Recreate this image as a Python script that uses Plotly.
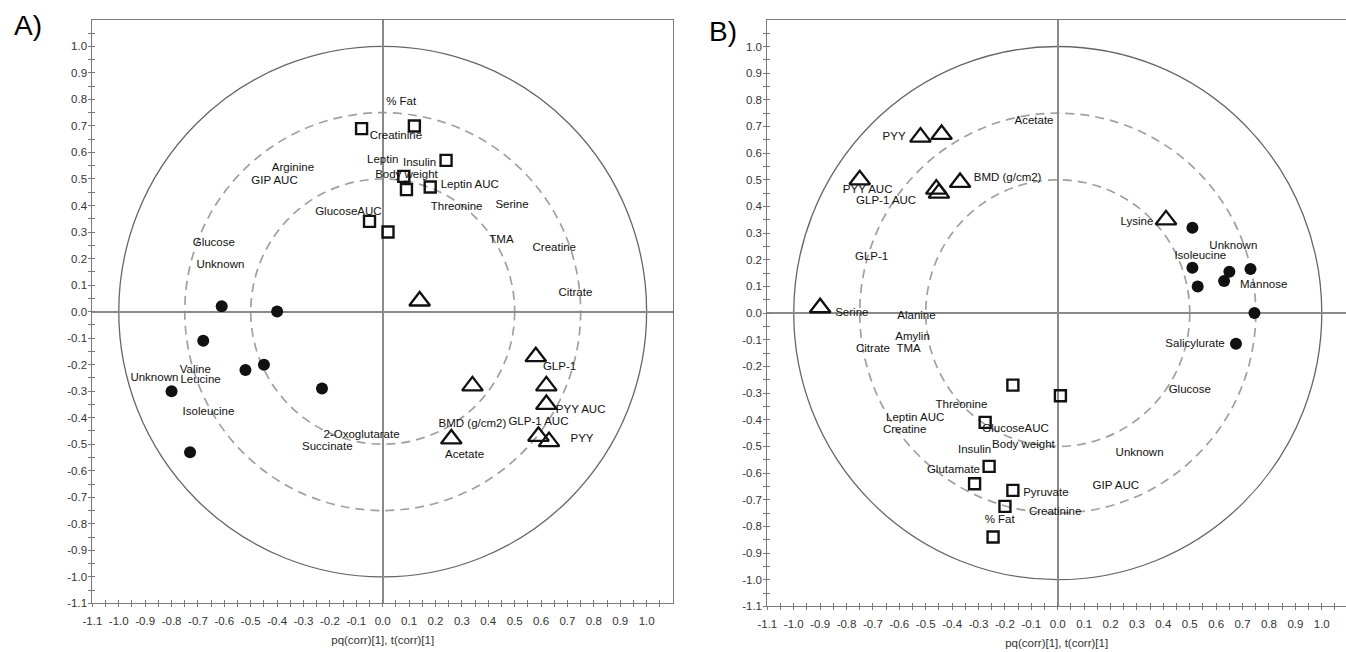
import numpy as np
import plotly.graph_objects as go

# ---------------- Panel A data ----------------
a_sq_x = [-0.08, 0.12, 0.24, 0.08, 0.09, 0.18, -0.05, 0.02]
a_sq_y = [0.69, 0.70, 0.57, 0.51, 0.46, 0.47, 0.34, 0.30]
a_tri_x = [0.14, 0.58, 0.34, 0.62, 0.62, 0.26, 0.59, 0.63]
a_tri_y = [0.04, -0.17, -0.28, -0.28, -0.35, -0.48, -0.47, -0.49]
a_dot_x = [-0.61, -0.40, -0.68, -0.45, -0.52, -0.23, -0.80, -0.73]
a_dot_y = [0.02, 0.00, -0.11, -0.20, -0.22, -0.29, -0.30, -0.53]

a_lbl = ["% Fat", "Creatinine", "Leptin", "Insulin", "Body weight", "Leptin AUC",
         "Arginine", "GIP AUC", "GlucoseAUC", "Threonine", "Serine", "TMA",
         "Creatine", "Citrate", "Glucose", "Unknown", "Valine", "Unknown",
         "Leucine", "Isoleucine", "2-Oxoglutarate", "Succinate", "BMD (g/cm2)",
         "GLP-1 AUC", "GLP-1", "PYY AUC", "PYY", "Acetate"]
a_lbl_x = [0.07, 0.05, 0.00, 0.14, 0.09, 0.33,
           -0.34, -0.41, -0.13, 0.28, 0.49, 0.45,
           0.65, 0.73, -0.64, -0.615, -0.71, -0.865,
           -0.69, -0.66, -0.08, -0.21, 0.34,
           0.59, 0.67, 0.75, 0.755, 0.31]
a_lbl_y = [0.79, 0.66, 0.57, 0.56, 0.515, 0.475,
           0.54, 0.49, 0.375, 0.395, 0.40, 0.27,
           0.24, 0.07, 0.26, 0.175, -0.22, -0.25,
           -0.26, -0.38, -0.465, -0.51, -0.425,
           -0.415, -0.21, -0.37, -0.48, -0.54]

# ---------------- Panel B data ----------------
b_sq_x = [-0.17, 0.01, -0.275, -0.26, -0.315, -0.17, -0.20, -0.245]
b_sq_y = [-0.27, -0.31, -0.41, -0.575, -0.64, -0.665, -0.725, -0.84]
b_tri_x = [-0.52, -0.44, -0.75, -0.46, -0.45, -0.37, 0.41, -0.90]
b_tri_y = [0.66, 0.67, 0.50, 0.465, 0.45, 0.49, 0.35, 0.02]
b_dot_x = [0.51, 0.51, 0.53, 0.63, 0.65, 0.73, 0.745, 0.675]
b_dot_y = [0.32, 0.17, 0.10, 0.12, 0.155, 0.165, 0.00, -0.115]

b_lbl = ["Acetate", "PYY", "BMD (g/cm2)", "PYY AUC", "GLP-1 AUC", "Lysine",
         "Unknown", "Isoleucine", "Mannose", "GLP-1", "Serine", "Alanine",
         "Amylin", "TMA", "Citrate", "Salicylurate", "Glucose", "Threonine",
         "Leptin AUC", "Creatine", "GlucoseAUC", "Body weight", "Insulin",
         "Unknown", "Glutamate", "GIP AUC", "Pyruvate", "Creatinine", "% Fat"]
b_lbl_x = [-0.09, -0.62, -0.19, -0.72, -0.65, 0.30,
           0.665, 0.54, 0.78, -0.705, -0.78, -0.535,
           -0.55, -0.565, -0.70, 0.52, 0.50, -0.365,
           -0.54, -0.58, -0.16, -0.13, -0.315,
           0.31, -0.395, 0.22, -0.045, -0.01, -0.22]
b_lbl_y = [0.72, 0.66, 0.505, 0.46, 0.42, 0.34,
           0.25, 0.215, 0.105, 0.21, 0.0, -0.01,
           -0.09, -0.135, -0.135, -0.115, -0.29, -0.345,
           -0.395, -0.44, -0.437, -0.495, -0.515,
           -0.525, -0.59, -0.65, -0.675, -0.745, -0.775]

# ---------------- axis / reference settings ----------------
tick_vals = [round(-1.1 + 0.05 * i, 2) for i in range(44)]
tick_text = [("%.1f" % v) if abs(round(v * 10) - v * 10) < 1e-6 and v < 1.05 else "" for v in tick_vals]
circle_radii = [1.0, 0.75, 0.5]

W, H = 1346, 652
FONT = "Liberation Sans, Arial, sans-serif"
TXT_COL = "#111111"
AX_COL = "#7a7a7a"

fig = go.Figure()


def add_panel(fig, xa, ya, sqx, sqy, trx, tryy, dx, dy, lbl, lx, ly):
    fig.add_trace(go.Scatter(x=lx, y=ly, mode="text", text=lbl, xaxis=xa, yaxis=ya,
                             textfont=dict(family=FONT, size=11.5, color=TXT_COL),
                             showlegend=False, hoverinfo="skip"))
    fig.add_trace(go.Scatter(x=sqx, y=sqy, mode="markers", xaxis=xa, yaxis=ya,
                             marker=dict(symbol="square-open", size=11, color="#111111",
                                         line=dict(width=2.4, color="#111111")),
                             showlegend=False))
    fig.add_trace(go.Scatter(x=trx, y=tryy, mode="markers", xaxis=xa, yaxis=ya,
                             marker=dict(symbol="triangle-up-open", size=18, color="#111111",
                                         line=dict(width=2.3, color="#111111")),
                             showlegend=False))
    fig.add_trace(go.Scatter(x=dx, y=dy, mode="markers", xaxis=xa, yaxis=ya,
                             marker=dict(symbol="circle", size=12, color="#111111"),
                             showlegend=False))


add_panel(fig, "x", "y", a_sq_x, a_sq_y, a_tri_x, a_tri_y, a_dot_x, a_dot_y, a_lbl, a_lbl_x, a_lbl_y)
add_panel(fig, "x2", "y2", b_sq_x, b_sq_y, b_tri_x, b_tri_y, b_dot_x, b_dot_y, b_lbl, b_lbl_x, b_lbl_y)

# pixel geometry of the two frames
ax_px = (83, 668, 20, 609)
bx_px = (763, 1346, 20, 612)
b_xmax = -1.1 + (bx_px[1] - bx_px[0]) / 266.0


def xdom(p):
    return [p[0] / W, min(p[1] / W, 1.0)]


def ydom(p):
    return [(H - p[3]) / H, (H - p[2]) / H]


def base_axis(rng, dom, anchor, mirror, title=None, standoff=0):
    d = dict(range=rng, domain=dom, anchor=anchor, showgrid=False, zeroline=True,
             zerolinecolor="#8a8a8a", zerolinewidth=1.5,
             showline=True, linecolor=AX_COL, linewidth=1, mirror=mirror,
             tickmode="array", tickvals=tick_vals, ticktext=tick_text,
             ticks="outside", ticklen=3, tickcolor=AX_COL, tickwidth=1,
             ticklabelstandoff=standoff,
             tickfont=dict(family=FONT, size=11.5, color="#333333"))
    if title:
        d["title"] = dict(text=title, font=dict(family=FONT, size=11.5, color="#333333"), standoff=9)
    return d


def overlay_axis(rng, over, anchor, side):
    return dict(range=rng, overlaying=over, anchor=anchor, side=side, showgrid=False,
                zeroline=False, showline=False, showticklabels=False,
                tickmode="array", tickvals=tick_vals, ticks="inside", ticklen=3,
                tickcolor=AX_COL, tickwidth=1)


xt = "pq(corr)[1], t(corr)[1]"
fig.update_layout(
    width=W, height=H, margin=dict(l=0, r=0, t=0, b=0),
    paper_bgcolor="white", plot_bgcolor="white",
    xaxis=base_axis([-1.1, 1.1], xdom(ax_px), "y", True, xt, standoff=4),
    yaxis=base_axis([-1.1, 1.1], ydom(ax_px), "x", True, standoff=-1),
    xaxis2=base_axis([-1.1, b_xmax], xdom(bx_px), "y2", True, xt, standoff=4),
    yaxis2=base_axis([-1.1, 1.1], ydom(bx_px), "x2", False, standoff=-1),
    xaxis3=overlay_axis([-1.1, 1.1], "x", "y", "bottom"),
    yaxis3=overlay_axis([-1.1, 1.1], "y", "x", "left"),
    xaxis4=overlay_axis([-1.1, b_xmax], "x2", "y2", "bottom"),
    yaxis4=overlay_axis([-1.1, 1.1], "y2", "x2", "left"),
)
# dummy traces so overlay axes render
fig.add_trace(go.Scatter(x=[None], y=[None], xaxis="x3", yaxis="y3", showlegend=False))
fig.add_trace(go.Scatter(x=[None], y=[None], xaxis="x4", yaxis="y4", showlegend=False))

for xr, yr in (("x", "y"), ("x2", "y2")):
    for r in circle_radii:
        solid = r == 1.0
        fig.add_shape(type="circle", xref=xr, yref=yr, x0=-r, y0=-r, x1=r, y1=r,
                      line=dict(color="#666666" if solid else "#a0a0a0",
                                width=1.3 if solid else 1.7,
                                dash="solid" if solid else "9px,6px"),
                      layer="below")

fig.add_annotation(text="A)", xref="paper", yref="paper", x=2 / W, y=1 - 8 / H,
                   xanchor="left", yanchor="top", showarrow=False,
                   font=dict(family=FONT, size=28, color="#000000"))
fig.add_annotation(text="B)", xref="paper", yref="paper", x=702 / W, y=1 - 14 / H,
                   xanchor="left", yanchor="top", showarrow=False,
                   font=dict(family=FONT, size=28, color="#000000"))

fig.write_html("out.html")
